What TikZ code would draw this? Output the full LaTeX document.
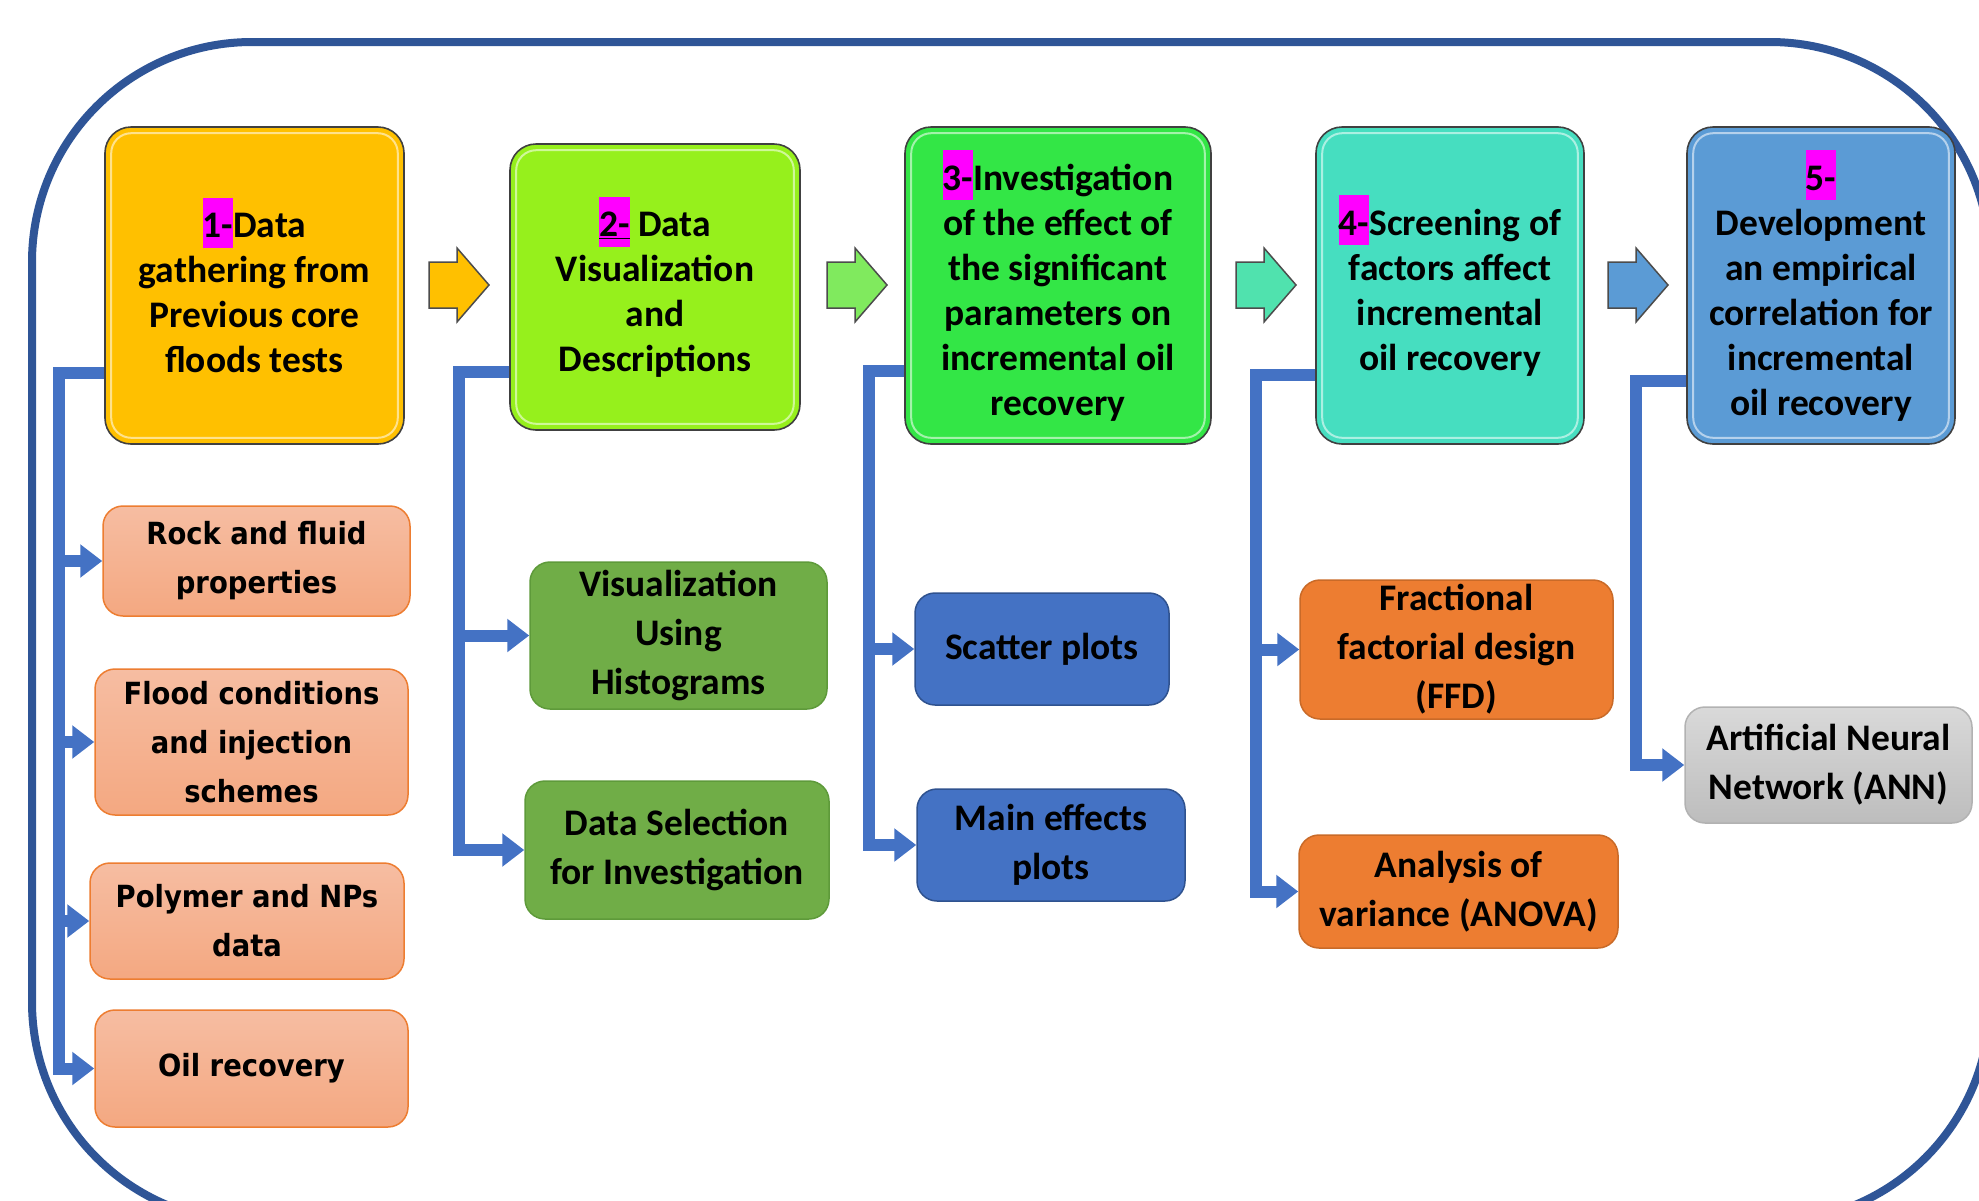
\documentclass[tikz,border=0pt]{standalone}
\usepackage{fontspec}
\setmainfont{Carlito}
\newfontfamily\tahoma{DejaVu Sans Condensed}
\usetikzlibrary{arrows.meta}

\definecolor{framebl}{HTML}{2F5597}
\definecolor{connbl}{HTML}{4472C4}
\definecolor{hlpink}{HTML}{FF00FF}
\definecolor{gold}{HTML}{FFC000}
\definecolor{lime}{HTML}{96F01C}
\definecolor{brgreen}{HTML}{33E646}
\definecolor{turq}{HTML}{46DEC0}
\definecolor{skyb}{HTML}{5B9BD5}
\definecolor{arrgreen}{HTML}{80EA5E}
\definecolor{arrteal}{HTML}{50E2AE}
\definecolor{salmontop}{HTML}{F6BDA2}
\definecolor{salmonbot}{HTML}{F4A881}
\definecolor{orline}{HTML}{ED7D31}
\definecolor{grn}{HTML}{70AD47}
\definecolor{grnline}{HTML}{5E9A3A}
\definecolor{blu}{HTML}{4472C4}
\definecolor{bluline}{HTML}{2F528F}
\definecolor{orng}{HTML}{ED7D31}
\definecolor{orngline}{HTML}{C96A28}
\definecolor{graytop}{HTML}{D9D9D9}
\definecolor{graybot}{HTML}{BDBDBD}

\newcommand{\hlnum}[1]{{\setlength{\fboxsep}{0pt}\colorbox{hlpink}{\rule[-10pt]{0pt}{50pt}#1}}}

\tikzset{
  framebox/.style={draw=framebl, line width=8pt, rounded corners=220pt},
  mainbox/.style={draw=black!75, line width=1.6pt, rounded corners=26pt, align=center,
    inner sep=0pt, font=\fontsize{37.5}{45}\selectfont\bfseries},
  blockarr/.style={draw=black!70, line width=1.5pt, line join=miter},
  subbox/.style={rounded corners=20pt, align=center, inner sep=0pt, line width=1.5pt,
    font=\fontsize{37.5}{49}\selectfont\bfseries},
  salmonbox/.style={subbox, draw=orline, top color=salmontop, bottom color=salmonbot,
    font=\tahoma\fontsize{30.5}{49}\selectfont\bfseries},
  greenbox/.style={subbox, draw=grnline, fill=grn},
  bluebox/.style={subbox, draw=bluline, fill=blu},
  orangebox/.style={subbox, draw=orngline, fill=orng},
  graybox/.style={subbox, draw=black!30, top color=graytop, bottom color=graybot},
  conn/.style={draw=connbl, line width=12pt, line join=miter, -{Triangle[length=22pt,width=32pt]}}
}

\begin{document}
\begin{tikzpicture}[x=1pt,y=-1pt]
\useasboundingbox (0,0) rectangle (1979,1200);
\clip (0,0) rectangle (1979,1200);
\draw[framebox] (32,42) rectangle (1990,1222);

% main steps
\node[mainbox, fill=gold, minimum width=299pt, minimum height=317pt] (b1) at (254.5,285.5)
  {\hlnum{1-}Data\\gathering from\\Previous core\\floods tests};
\node[mainbox, fill=lime, minimum width=290pt, minimum height=286pt] (b2) at (655,287)
  {\hlnum{\underline{2-}} Data\\Visualization\\and\\Descriptions};
\node[mainbox, fill=brgreen, minimum width=306pt, minimum height=317pt] (b3) at (1058,285.5)
  {\hlnum{3-}Investigation\\of the effect of\\the significant\\parameters on\\incremental oil\\recovery};
\node[mainbox, fill=turq, minimum width=268pt, minimum height=317pt] (b4) at (1450,285.5)
  {\hlnum{4-}Screening of\\factors affect\\incremental\\oil recovery};
\node[mainbox, fill=skyb, minimum width=268pt, minimum height=317pt] (b5) at (1821,285.5)
  {\hlnum{5-}\\Development\\an empirical\\correlation for\\incremental\\oil recovery};
\foreach \b in {b1,b2,b3,b4,b5}
  \draw[white, opacity=.55, line width=2pt, rounded corners=20pt]
    ([shift={(7pt,-7pt)}]\b.north west) rectangle ([shift={(-7pt,7pt)}]\b.south east);

% block arrows between steps
\foreach \xa/\col in {429/gold,827/arrgreen,1236/arrteal,1608/skyb}
  \draw[blockarr, fill=\col] (\xa,262) -- ++(28,0) -- ++(0,-14) -- ++(32,37)
    -- ++(-32,37) -- ++(0,-14) -- ++(-28,0) -- cycle;

% sub-tasks
\node[salmonbox, minimum width=307pt, minimum height=110pt] (rock) at (256.5,561)
  {Rock and fluid\\properties};
\node[salmonbox, minimum width=313pt, minimum height=146pt] (flood) at (251.5,742)
  {Flood conditions\\and injection\\schemes};
\node[salmonbox, minimum width=314pt, minimum height=116pt] (poly) at (247,921)
  {Polymer and NPs\\data};
\node[salmonbox, minimum width=313pt, minimum height=117pt] (oil) at (251.5,1068.5)
  {Oil recovery};
\node[greenbox, minimum width=297pt, minimum height=147pt] (vis) at (678.5,635.5)
  {Visualization\\Using\\Histograms};
\node[greenbox, minimum width=304pt, minimum height=138pt] (sel) at (677,850)
  {Data Selection\\for Investigation};
\node[bluebox, minimum width=254pt, minimum height=112pt] (scat) at (1042,649)
  {Scatter plots};
\node[bluebox, minimum width=268pt, minimum height=112pt] (meff) at (1051,845)
  {Main effects\\plots};
\node[orangebox, minimum width=313pt, minimum height=139pt] (ffd) at (1456.5,649.5)
  {Fractional\\factorial design\\(FFD)};
\node[orangebox, minimum width=319pt, minimum height=113pt] (anova) at (1458.5,891.5)
  {Analysis of\\variance (ANOVA)};
\node[graybox, minimum width=287pt, minimum height=116pt] (ann) at (1828.5,765)
  {Artificial Neural\\Network (ANN)};

% connectors
\coordinate (t1) at (59,373);
\coordinate (t2) at (459,372);
\coordinate (t3) at (869,371);
\coordinate (t4) at (1256,375);
\coordinate (t5) at (1636,381);
\draw[conn] (b1.west |- t1) -- (t1) |- (oil.west);
\foreach \s in {rock,flood,poly}
  \draw[conn] (t1 |- \s.west) -- (\s.west);
\draw[conn] (b2.west |- t2) -- (t2) |- (sel.west);
\draw[conn] (t2 |- vis.west) -- (vis.west);
\draw[conn] (b3.west |- t3) -- (t3) |- (meff.west);
\draw[conn] (t3 |- scat.west) -- (scat.west);
\draw[conn] (b4.west |- t4) -- (t4) |- (anova.west);
\draw[conn] (t4 |- ffd.west) -- (ffd.west);
\draw[conn] (b5.west |- t5) -- (t5) |- (ann.west);
\end{tikzpicture}
\end{document}
